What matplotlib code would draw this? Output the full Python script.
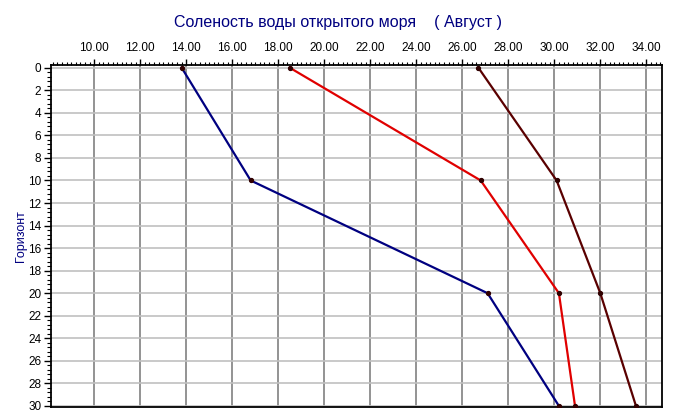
import matplotlib
matplotlib.use('Agg')
from matplotlib import pyplot as plt
from matplotlib.ticker import MultipleLocator, FormatStrFormatter

# depth horizons and salinity series
depth = [0, 10, 20, 30]
sal_blue = [13.8, 16.8, 27.1, 30.2]
sal_red = [18.5, 26.8, 30.2, 30.9]
sal_dark = [26.7, 30.1, 32.0, 33.55]

title = 'Соленость воды открытого моря    ( Август )'
ylabel = 'Горизонт'

plt.rcParams['font.family'] = ['Liberation Sans', 'DejaVu Sans']

fig = plt.figure(figsize=(6.75, 4.19), dpi=100)
ax = fig.add_axes([0.0756, 0.0298, 0.9044, 0.8139])

for vals, col in [(sal_blue, '#000080'), (sal_red, '#e00000'), (sal_dark, '#5a0000')]:
    ax.plot(vals, depth, color=col, lw=1.6, zorder=3)
    ax.plot(vals, depth, 'o', color='#300000', ms=2.8, zorder=4)

ax.set_xlim(8.12, 34.66)
ax.set_ylim(30.05, -0.2)

ax.xaxis.tick_top()
ax.xaxis.set_major_locator(MultipleLocator(2))
ax.xaxis.set_minor_locator(MultipleLocator(0.2))
ax.xaxis.set_major_formatter(FormatStrFormatter('%.2f'))
ax.yaxis.set_major_locator(MultipleLocator(2))
ax.yaxis.set_minor_locator(MultipleLocator(0.4))
ax.yaxis.set_major_formatter(FormatStrFormatter('%d'))

ax.tick_params(axis='x', which='major', length=4, width=1, labelsize=8.5, pad=4)
ax.tick_params(axis='x', which='minor', length=2.5, width=0.8)
ax.tick_params(axis='y', which='major', length=5, width=1, labelsize=8.5, pad=2)
ax.tick_params(axis='y', which='minor', length=3, width=0.8)

ax.xaxis.grid(True, which='major', color='#808080', lw=1.2)
ax.yaxis.grid(True, which='major', color='#c0c0c0', lw=1.2)
ax.set_axisbelow(True)

for s in ax.spines.values():
    s.set_color('black')
    s.set_linewidth(1.3)

ax.set_ylabel(ylabel, color='#000080', fontsize=9)
ax.yaxis.set_label_coords(-0.039, 0.5)
fig.text(0.5, 0.947, title, color='#000080', fontsize=11.5, ha='center', va='center')

fig.savefig('out.png', dpi=100)
